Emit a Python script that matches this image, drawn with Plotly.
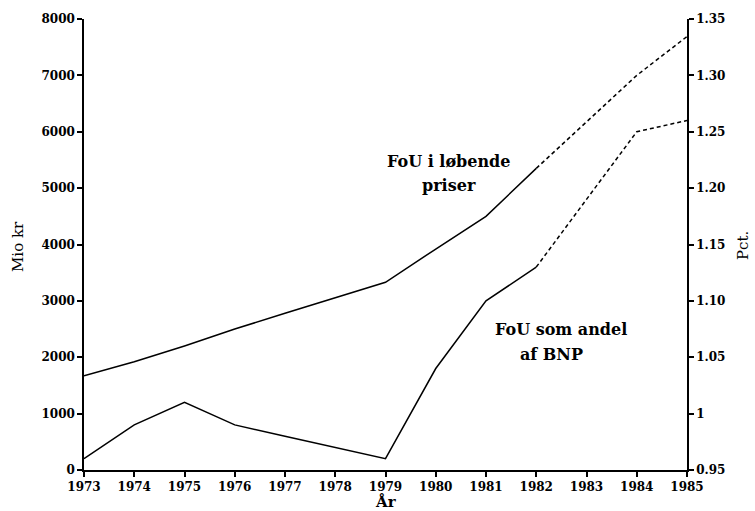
import plotly.graph_objects as go

# Years on the horizontal axis
years = [1973, 1974, 1975, 1976, 1977, 1978, 1979, 1980, 1981, 1982, 1983, 1984, 1985]

# R&D spending in current prices (million kr, left axis)
fou_mio_kr = [1670, 1920, 2200, 2500, 2780, 3060, 3330, 3920, 4500, 5350, 6170, 7000, 7690]

# R&D as share of GDP (percent, right axis)
fou_pct_bnp = [0.96, 0.99, 1.01, 0.99, 0.98, 0.97, 0.96, 1.04, 1.10, 1.13, 1.19, 1.25, 1.26]

# Index of the last year with actual figures; later years are drawn dashed
last_actual = years.index(1982)

left_ticks = [0, 1000, 2000, 3000, 4000, 5000, 6000, 7000, 8000]
right_ticks = [0.95, 1.00, 1.05, 1.10, 1.15, 1.20, 1.25, 1.30, 1.35]
right_tick_text = ["0.95", "1", "1.05", "1.10", "1.15", "1.20", "1.25", "1.30", "1.35"]

tick_font = dict(family="DejaVu Serif", size=12, color="black", weight="bold")
note_font = dict(family="DejaVu Serif", size=16, color="black", weight="bold")

line_style = dict(color="black", width=1.5)
dash_style = dict(color="black", width=1.5, dash="4px,3px")

fig = go.Figure()

fig.add_trace(go.Scatter(
    x=years[:last_actual + 1], y=fou_mio_kr[:last_actual + 1],
    mode="lines", line=line_style, yaxis="y", showlegend=False))
fig.add_trace(go.Scatter(
    x=years[last_actual:], y=fou_mio_kr[last_actual:],
    mode="lines", line=dash_style, yaxis="y", showlegend=False))
fig.add_trace(go.Scatter(
    x=years[:last_actual + 1], y=fou_pct_bnp[:last_actual + 1],
    mode="lines", line=line_style, yaxis="y2", showlegend=False))
fig.add_trace(go.Scatter(
    x=years[last_actual:], y=fou_pct_bnp[last_actual:],
    mode="lines", line=dash_style, yaxis="y2", showlegend=False))

fig.update_layout(
    width=755, height=511,
    margin=dict(l=84, r=68, t=19, b=41),
    paper_bgcolor="white", plot_bgcolor="white",
    xaxis=dict(
        range=[1973, 1985], tickvals=years, ticktext=[str(y) for y in years],
        showgrid=False, zeroline=False, showline=True, linecolor="black", linewidth=1.5,
        ticks="outside", ticklen=5, tickwidth=1.5, tickcolor="black",
        tickfont=tick_font, ticklabelstandoff=0,
    ),
    yaxis=dict(
        range=[0, 8000], tickvals=left_ticks,
        showgrid=False, zeroline=False, showline=True, linecolor="black", linewidth=1.5,
        ticks="outside", ticklen=5, tickwidth=1.5, tickcolor="black",
        tickfont=tick_font,
    ),
    yaxis2=dict(
        range=[0.95, 1.35], tickvals=right_ticks, ticktext=right_tick_text,
        overlaying="y", side="right",
        showgrid=False, zeroline=False, showline=True, linecolor="black", linewidth=1.5,
        ticks="outside", ticklen=5, tickwidth=1.5, tickcolor="black",
        tickfont=tick_font,
    ),
    annotations=[
        dict(text="FoU i løbende", x=1980.26, y=5480, xref="x", yref="y",
             showarrow=False, font=note_font),
        dict(text="priser", x=1980.26, y=5050, xref="x", yref="y",
             showarrow=False, font=note_font),
        dict(text="FoU som andel", x=1982.49, y=1.075, xref="x", yref="y2",
             showarrow=False, font=note_font),
        dict(text="af BNP", x=1982.31, y=1.052, xref="x", yref="y2",
             showarrow=False, font=note_font),
        dict(text="Mio kr", x=(18 - 84) / 603, y=(470 - 247) / 451,
             xref="paper", yref="paper", xanchor="center", yanchor="middle",
             showarrow=False, textangle=-90,
             font=dict(family="DejaVu Serif", size=15, color="black")),
        dict(text="Pct.", x=(743 - 84) / 603, y=(470 - 246) / 451,
             xref="paper", yref="paper", xanchor="center", yanchor="middle",
             showarrow=False, textangle=-90,
             font=dict(family="DejaVu Serif", size=15, color="black")),
        dict(text="År", x=(386 - 84) / 603, y=-(502 - 470) / 451,
             xref="paper", yref="paper", xanchor="center", yanchor="middle",
             showarrow=False,
             font=dict(family="DejaVu Serif", size=15, color="black", weight="bold")),
    ],
)

fig.write_html("out.html")
